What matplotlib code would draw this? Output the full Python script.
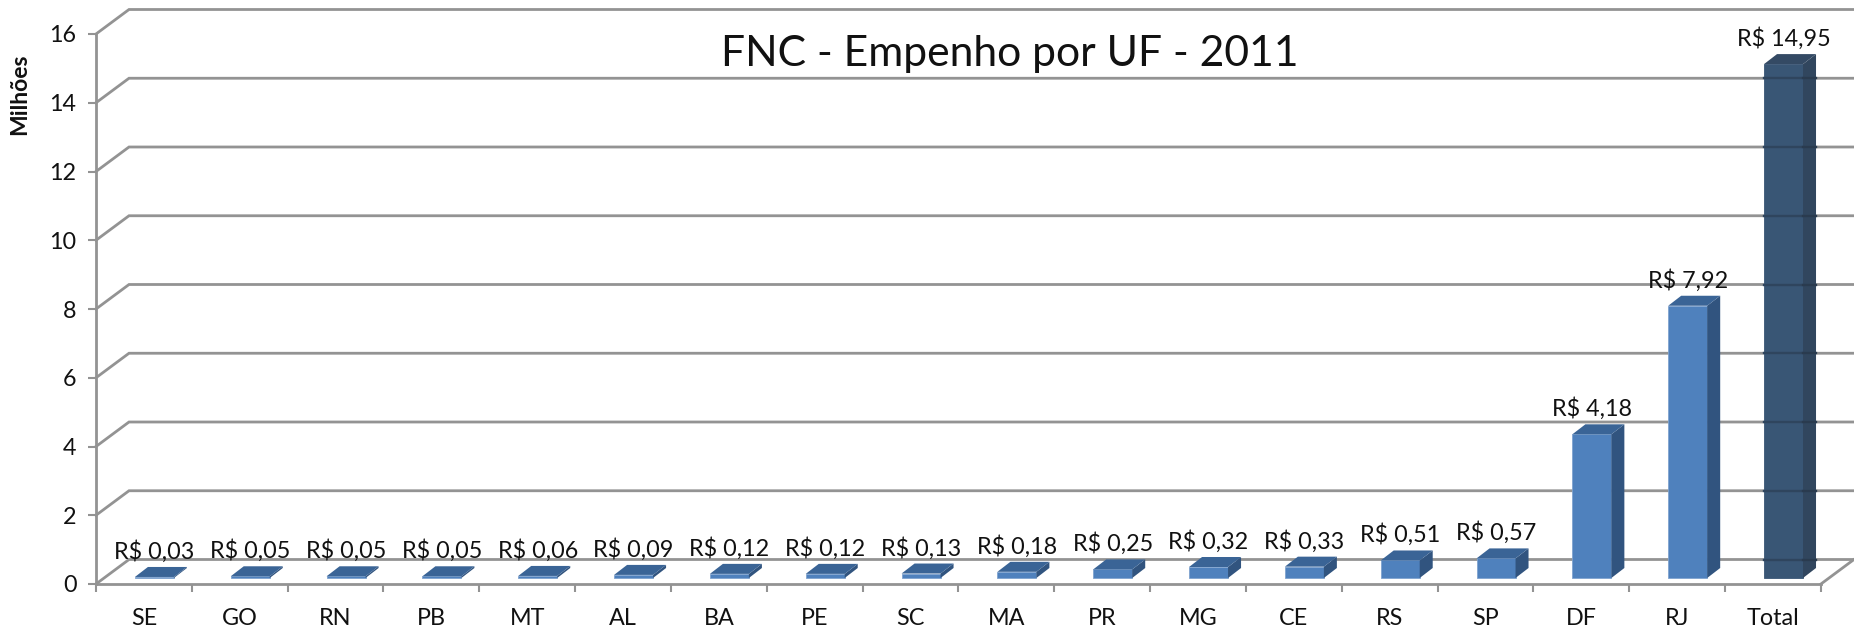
import matplotlib
matplotlib.use('Agg')
import matplotlib.pyplot as plt

plt.rcParams['font.family'] = ['Lato', 'DejaVu Sans']

ufs = ['SE', 'GO', 'RN', 'PB', 'MT', 'AL', 'BA', 'PE', 'SC', 'MA', 'PR', 'MG', 'CE', 'RS', 'SP', 'DF', 'RJ', 'Total']
empenho = [0.03, 0.05, 0.05, 0.05, 0.06, 0.09, 0.12, 0.12, 0.13, 0.18, 0.25, 0.32, 0.33, 0.51, 0.57, 4.18, 7.92, 14.95]
y_ticks = [0, 2, 4, 6, 8, 10, 12, 14, 16]

# pixel scale of the plot, the axes fills the whole figure
px_x = 95.83
px_y = 34.375
wall_dx = 33 / px_x
wall_dy = 24.5 / px_y
bar_dx = 13 / px_x
bar_dy = 10 / px_y
bar_w = 39 / px_x
bar_shift = 10.5 / px_x
bar_base = 6 / px_y

grid_c = '#939393'

fig = plt.figure(figsize=(18.54, 6.30), dpi=100)
ax = fig.add_axes([0, 0, 1, 1])
ax.set_xlim(-96 / px_x, (1854 - 96) / px_x)
ax.set_ylim(-46 / px_y, 584 / px_y)

for v in y_ticks:
    ax.plot([0, wall_dx, 20], [v, v + wall_dy, v + wall_dy], color=grid_c, lw=2, zorder=1,
            solid_joinstyle='miter')
ax.plot([18, 18 + wall_dx], [0, wall_dy], color=grid_c, lw=2, zorder=1)

for i, (uf, v) in enumerate(zip(ufs, empenho)):
    left = i + 0.5 + bar_shift - bar_w / 2
    right = left + bar_w
    base = bar_base
    top = base + v
    if uf == 'Total':
        front, side, roof = '#395675', '#31465e', '#344a64'
    else:
        front, side, roof = '#4f81bd', '#31547f', '#3a6496'
    ax.fill([left, right, right, left], [base, base, top, top], color=front, lw=0.6,
            ec='#7fa3cf' if uf != 'Total' else front, zorder=3)
    ax.fill([right, right + bar_dx, right + bar_dx, right],
            [base, base + bar_dy, top + bar_dy, top], color=side, lw=0, zorder=3)
    ax.fill([left, right, right + bar_dx, left + bar_dx],
            [top, top, top + bar_dy, top + bar_dy], color=roof, lw=0, zorder=3)
    label = ('R$ %.2f' % v).replace('.', ',')
    ax.annotate(label, xy=(left + bar_w / 2, top + bar_dy), xytext=(0, 3), textcoords='offset points',
                ha='center', va='bottom', fontsize=16.8, color='#111111', zorder=5)
    # grid shows through the Total column
    if uf == 'Total':
        for g in y_ticks:
            if g + wall_dy < top:
                ax.plot([left, right], [g + wall_dy, g + wall_dy], color='#2f455e', lw=1.7, zorder=4)
                ax.plot([right, right + bar_dx], [g + wall_dy, g + wall_dy], color='#2a3b4f', lw=1.7, zorder=4)

for s in ['top', 'right']:
    ax.spines[s].set_visible(False)
ax.spines['left'].set_position(('data', 0))
ax.spines['bottom'].set_position(('data', 0))
ax.spines['left'].set_bounds(0, 16)
ax.spines['bottom'].set_bounds(0, 18)
for s in ['left', 'bottom']:
    ax.spines[s].set_color(grid_c)
    ax.spines[s].set_linewidth(2)
    ax.spines[s].set_zorder(2)

ax.set_yticks(y_ticks)
ax.set_xticks(range(19))
ax.set_xticklabels([])
ax.set_xticks([i + 0.5 for i in range(18)], minor=True)
ax.set_xticklabels(ufs, minor=True)
ax.tick_params(axis='y', length=6, width=1.5, color=grid_c, labelsize=16.8, pad=8, labelcolor='#111111')
ax.tick_params(axis='x', which='major', length=6, width=1.5, color=grid_c)
ax.tick_params(axis='x', which='minor', length=0, labelsize=16.8, pad=17, labelcolor='#111111')

fig.text(20 / 1854, 1 - 94 / 630, 'Milhões', rotation=90, ha='center', va='center',
         fontsize=16.5, fontweight='bold', color='#111111')
fig.text(1010 / 1854, 1 - 54 / 630, 'FNC - Empenho por UF - 2011', ha='center', va='center',
         fontsize=30.7, color='#111111')

fig.savefig('out.png', dpi=100)
